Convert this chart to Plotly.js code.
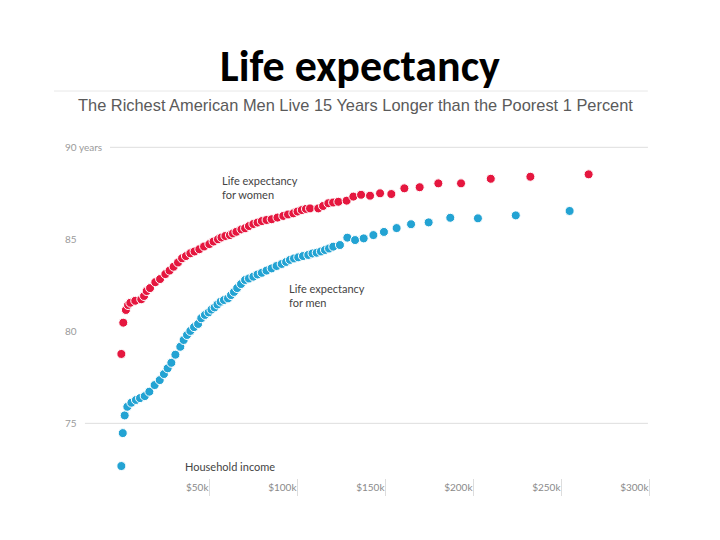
<!DOCTYPE html>
<html>
<head>
<meta charset="utf-8">
<script src="https://cdn.plot.ly/plotly-3.0.1.min.js"></script>
<style>html,body{margin:0;padding:0;background:#fff;}#chart{width:720px;height:540px;}</style>
</head>
<body>
<div id="chart"></div>
<script>
// Household income (thousands of dollars) and life expectancy (years)
const menIncome = [0.2,1.0,2.1,3.6,5.9,8.5,10.8,13.5,16.1,19.1,22.0,24.4,26.5,28.6,30.9,33.7,35.6,37.5,39.4,41.5,43.8,45.6,47.7,49.8,51.4,53.2,54.8,56.6,58.5,60.8,62.5,64.2,66.0,68.2,70.5,72.7,75.2,77.6,80.0,82.7,85.6,88.4,91.3,93.8,96.0,98.3,100.7,103.4,106.4,108.8,111.2,113.6,115.9,118.2,120.6,124.4,128.6,133.0,137.9,143.4,149.4,156.6,164.8,174.8,187.1,202.8,224.3,254.9];
const menLife = [72.68,74.47,75.43,75.90,76.12,76.27,76.37,76.48,76.72,77.08,77.35,77.68,77.99,78.29,78.73,79.16,79.53,79.80,80.02,80.23,80.40,80.71,80.89,81.03,81.18,81.30,81.46,81.61,81.70,81.79,81.97,82.14,82.35,82.57,82.79,82.87,82.97,83.09,83.18,83.30,83.42,83.55,83.66,83.77,83.88,83.96,84.02,84.09,84.15,84.23,84.27,84.34,84.42,84.50,84.60,84.69,85.09,84.96,85.05,85.23,85.40,85.61,85.82,85.92,86.17,86.14,86.30,86.54];

const womenIncome = [0.2,1.3,2.8,4.0,5.3,8.1,11.5,13.1,14.6,16.5,19.5,22.2,25.2,27.6,29.9,32.4,34.7,36.9,39.4,41.8,44.5,47.2,50.2,52.6,55.1,57.1,59.3,61.9,63.6,65.6,68.4,70.5,72.7,75.2,77.6,80.0,82.7,85.6,88.9,92.2,94.9,97.9,100.3,102.7,105.1,107.4,112.1,114.8,117.8,120.5,123.5,128.2,132.0,136.4,141.5,147.2,153.6,161.0,169.7,180.3,193.2,210.1,232.6,265.7];
const womenLife = [78.77,80.47,81.16,81.43,81.55,81.66,81.74,81.92,82.19,82.35,82.67,82.84,83.11,83.30,83.51,83.74,83.97,84.09,84.24,84.34,84.46,84.61,84.74,84.88,85.00,85.10,85.18,85.23,85.32,85.41,85.54,85.60,85.72,85.83,85.91,85.99,86.05,86.09,86.18,86.27,86.35,86.41,86.51,86.59,86.65,86.68,86.68,86.81,86.96,87.00,87.04,87.10,87.32,87.42,87.37,87.50,87.46,87.77,87.83,88.04,88.04,88.29,88.40,88.53];

const xTickVals = [50,100,150,200,250,300];
const xTickText = ['$50k','$100k','$150k','$200k','$250k','$300k'];
const yTickVals = [75,80,85,90];
const yTickText = ['75','80','85','90 years'];
const gridYears = [90,75];

const red = '#e5173f';
const blue = '#23a3d3';

const traces = [
  {x: womenIncome, y: womenLife, type:'scatter', mode:'markers', name:'Women',
   marker:{color:red, size:9, line:{color:'#ffffff', width:1}}, hoverinfo:'skip'},
  {x: menIncome, y: menLife, type:'scatter', mode:'markers', name:'Men',
   marker:{color:blue, size:9, line:{color:'#ffffff', width:1}}, hoverinfo:'skip'}
];

const fontBase = 'Lato, "Liberation Sans", Arial, sans-serif';

const layout = {
  width:720, height:540,
  paper_bgcolor:'#ffffff', plot_bgcolor:'#ffffff',
  margin:{l:62, r:71, t:130, b:62},
  showlegend:false,
  title:{text:'<b>Life expectancy</b>', x:0.5, xref:'container', xanchor:'center',
         y:0.878, yref:'container', yanchor:'middle',
         font:{family:'Carlito, Calibri, "Open Sans", sans-serif', size:44, color:'#000000'}},
  xaxis:{range:[-33.52,300], tickvals:xTickVals, ticktext:xTickText,
         showgrid:false, zeroline:false, showline:false,
         ticks:'outside', ticklen:17, tickcolor:'#dddddd', tickwidth:1,
         ticklabelposition:'outside left',
         tickfont:{family:fontBase, size:10, color:'#8a8a8a'}},
  yaxis:{range:[72.03,90.94], tickvals:yTickVals, ticktext:yTickText,
         showgrid:false, zeroline:false, showline:false, ticks:'',
         ticklabelposition:'inside',
         tickfont:{family:fontBase, size:10, color:'#9a9a9a'}},
  shapes:[
    {type:'line', xref:'x', yref:'y', x0:-6.25, x1:299.4, y0:gridYears[0], y1:gridYears[0],
     line:{color:'#dedede', width:1}},
    {type:'line', xref:'x', yref:'y', x0:-20.5, x1:299.4, y0:gridYears[1], y1:gridYears[1],
     line:{color:'#dedede', width:1}},
    {type:'line', xref:'paper', yref:'paper', x0:-0.0136, x1:0.998, y0:1.112, y1:1.112,
     line:{color:'#e8e8e8', width:1}}
  ],
  annotations:[
    {text:'The Richest American Men Live 15 Years Longer than the Poorest 1 Percent',
     xref:'paper', yref:'paper', x:0.5, y:1.0718, xanchor:'center', yanchor:'middle',
     showarrow:false, font:{family:'"Liberation Sans", Arial, sans-serif', size:16.4, color:'#5a5a5a'}},
    {text:'Life expectancy<br>for women', xref:'x', yref:'y', x:56.3, y:87.82,
     xanchor:'left', yanchor:'middle', align:'left', showarrow:false,
     font:{family:fontBase, size:11, color:'#444444'}},
    {text:'Life expectancy<br>for men', xref:'x', yref:'y', x:94.3, y:81.92,
     xanchor:'left', yanchor:'middle', align:'left', showarrow:false,
     font:{family:fontBase, size:11, color:'#444444'}},
    {text:'Household income', xref:'x', yref:'y', x:35.2, y:72.63,
     xanchor:'left', yanchor:'middle', align:'left', showarrow:false,
     font:{family:fontBase, size:11, color:'#444444'}}
  ]
};

Plotly.newPlot('chart', traces, layout, {displayModeBar:false, staticPlot:true});
</script>
</body>
</html>
